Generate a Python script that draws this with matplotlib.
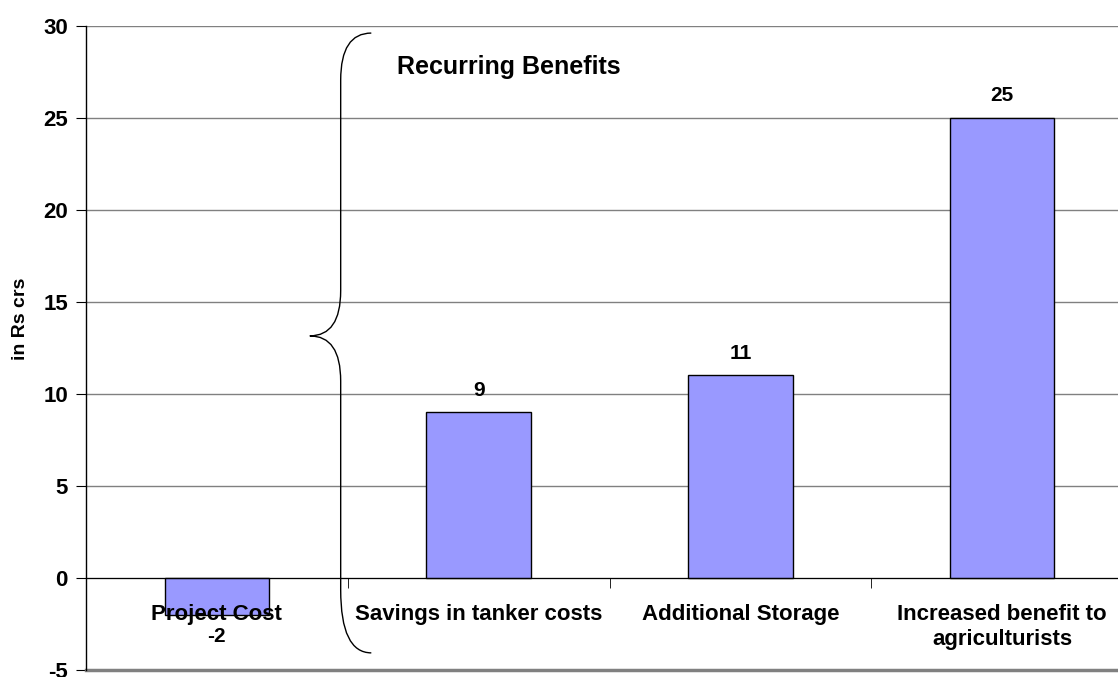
import numpy as np
import matplotlib.pyplot as plt
from matplotlib.path import Path
from matplotlib.patches import PathPatch

categories = ['Project Cost', 'Savings in tanker costs', 'Additional Storage',
              'Increased benefit to\nagriculturists']
values = [-2, 9, 11, 25]
y_ticks = [-5, 0, 5, 10, 15, 20, 25, 30]

plt.rcParams['font.family'] = ['Liberation Sans', 'DejaVu Sans']
plt.rcParams['font.weight'] = 'bold'

fig = plt.figure(figsize=(11.18, 6.77), dpi=100)
# right edge of the plot area runs past the picture, as in the original
ax = fig.add_axes([86 / 1118, (677 - 670) / 677, (1133 - 86) / 1118, (670 - 25.7) / 677])
ax.set_axisbelow(True)

x = np.arange(len(categories))
bars = ax.bar(x, values, width=0.4, color='#9999FF', edgecolor='black', linewidth=1, zorder=2)

for xi, v in zip(x, values):
    off = 16 if v >= 0 else -16
    ax.annotate(str(v), (xi, v), xytext=(0, off), textcoords='offset points',
                ha='center', va='center', fontsize=15, fontweight='bold')

ax.set_xlim(-0.5, len(categories) - 0.5)
ax.set_ylim(-5, 30)
ax.set_yticks(y_ticks)
ax.set_yticklabels([str(t) for t in y_ticks], fontsize=16, fontweight='bold')
ax.grid(axis='y', color='#808080', linewidth=1)
ax.axhline(-5, color='#808080', linewidth=2.5, zorder=1, clip_on=False)

ax.spines['bottom'].set_position(('data', 0))
ax.spines['bottom'].set_zorder(3)
ax.spines['top'].set_visible(False)
ax.spines['right'].set_visible(False)
ax.spines['left'].set_linewidth(1)

ax.set_xticks(x)
ax.set_xticklabels(categories, fontsize=16, fontweight='bold')
ax.set_xticks(np.arange(0.5, len(categories) - 0.5, 1.0), minor=True)
ax.tick_params(axis='x', which='major', length=0, pad=19)
ax.tick_params(axis='x', which='minor', length=7, direction='out', color='black')
ax.tick_params(axis='y', length=7, direction='out', pad=6)
# category labels sit on top of the bars
ax.xaxis.set_zorder(5)

ax.set_ylabel('in Rs crs', fontsize=14, fontweight='bold')
ax.yaxis.set_label_coords(-0.054, 0.545)

# curly brace around the recurring benefits
xv, xe, xc = 0.473, 0.59, 0.355
yt, yc, yb = 29.6, 13.15, -4.07
verts = [(xe, yt), (xv, yt), (xv, 27.05),
         (xv, 15.6),
         (xv, yc), (xc, yc),
         (xv, yc), (xv, 10.7),
         (xv, -0.65),
         (xv, yb), (xe, yb)]
codes = [Path.MOVETO, Path.CURVE3, Path.CURVE3,
         Path.LINETO,
         Path.CURVE3, Path.CURVE3,
         Path.CURVE3, Path.CURVE3,
         Path.LINETO,
         Path.CURVE3, Path.CURVE3]
ax.add_patch(PathPatch(Path(verts, codes), fill=False, edgecolor='black',
                       linewidth=1, zorder=4, clip_on=False))

ax.text(0.69, 27.75, 'Recurring Benefits', fontsize=18, fontweight='bold',
        ha='left', va='center')

fig.savefig('out.png', dpi=100)
